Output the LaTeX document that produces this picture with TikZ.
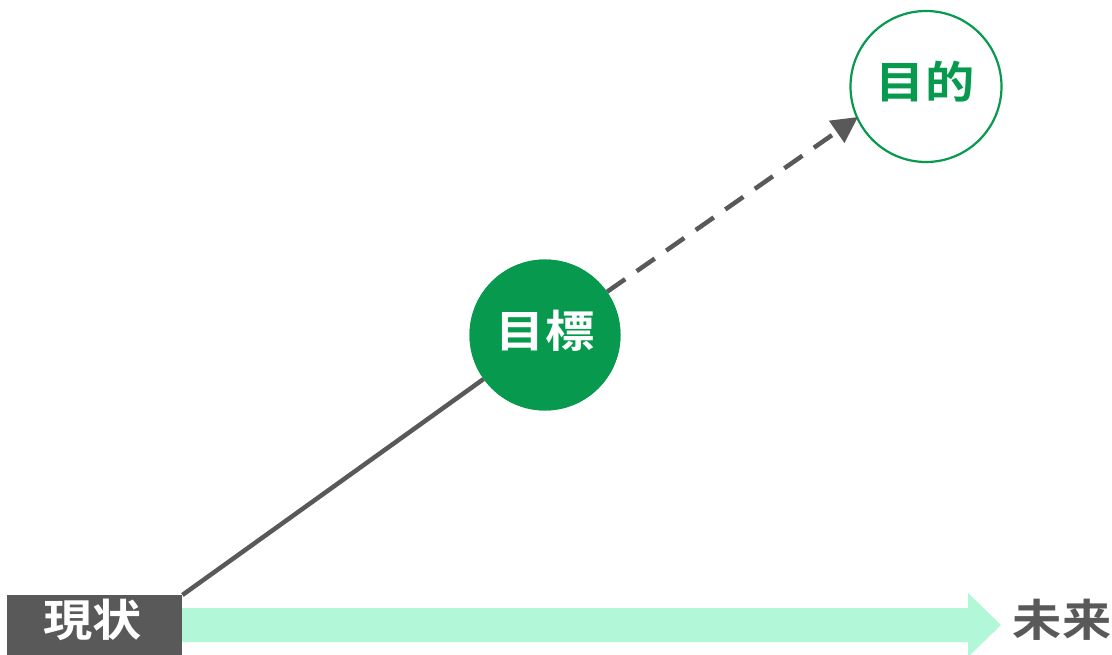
\documentclass[tikz,border=0pt]{standalone}
\usepackage{graphicx}
\usepackage{fontspec}
\newfontfamily\jp{Noto Sans CJK JP}[BoldFont={* Bold}]
\usetikzlibrary{arrows.meta}
\definecolor{dgray}{HTML}{595959}
\definecolor{dgreen}{HTML}{079A4F}
\definecolor{lgreen}{HTML}{B3F7D9}
\newcommand{\wide}[1]{\scalebox{1.12}[1]{#1}}
\tikzset{
  lbl/.style={font=\jp\bfseries\fontsize{44}{44}\selectfont, inner sep=0pt},
  circ/.style={circle, minimum size=151pt, inner sep=0pt},
}
\begin{document}
\begin{tikzpicture}[x=1pt,y=-1pt]
\useasboundingbox (0,0) rectangle (1112,655);
\clip (0,0) rectangle (1112,655);
% timeline arrow
\fill[lgreen] (182,608) -- (968,608) -- (968,593) -- (1001,625) -- (968,657) -- (968,642) -- (182,642) -- cycle;
% current state box
\node[fill=dgray, minimum width=175pt, minimum height=62pt, inner sep=0pt, anchor=north west] (now) at (7,595) {};
\node[lbl, text=white] (nowt) at (93,620) {\wide{現状}};
\node[lbl, text=dgray] (future) at (1062,620) {\wide{未来}};
% circles
\node[circ, fill=dgreen] (goal) at (545,335) {};
\node[circ, draw=dgreen, line width=2.2pt, fill=white] (purpose) at (926,86.5) {};
\coordinate (tip) at (858,117);
% connectors
\draw[dgray, line width=4.5pt] (now.north east) -- (goal);
\draw[dgray, line width=4.5pt, dash pattern=on 22pt off 14pt, -{Triangle[length=26pt,width=26pt]}] (goal) -- (tip);
\node[circ, fill=dgreen] at (545,335) {};
\node[lbl, text=white] (goalt) at (545,331) {\wide{目標}};
\node[lbl, text=dgreen] (purposet) at (925,82) {\wide{目的}};
\end{tikzpicture}
\end{document}
